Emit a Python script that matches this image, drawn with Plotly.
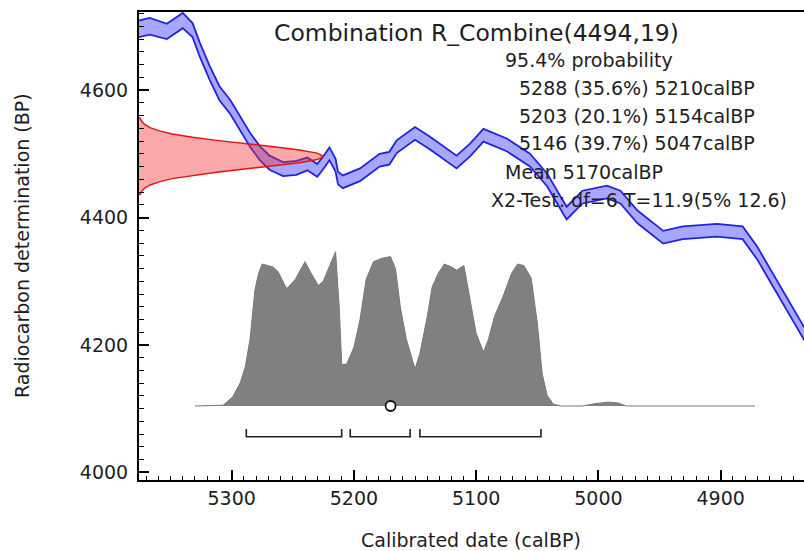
import plotly.graph_objects as go

# ---------------- data ----------------
# calibration curve (centre, BP) and half-width of band
curve_cal = [5376, 5367, 5353, 5347, 5340, 5332, 5326, 5318, 5310, 5301,
             5293, 5285, 5277, 5269, 5258, 5247, 5238, 5230, 5225, 5220,
             5215, 5213, 5209, 5195, 5179, 5171, 5165, 5150, 5138, 5116,
             5105, 5094, 5075, 5056, 5042, 5026, 5013, 4993, 4982, 4968,
             4947, 4931, 4903, 4882, 4870, 4854, 4832, 4820]
curve_bp = [4696, 4700, 4692, 4700, 4709, 4694, 4663, 4627, 4595, 4573,
            4548, 4522, 4501, 4486, 4476, 4478, 4484, 4474, 4486, 4500,
            4482, 4462, 4456, 4467, 4490, 4493, 4511, 4532, 4517, 4487,
            4506, 4529, 4514, 4490, 4459, 4407, 4432, 4440, 4432, 4401,
            4369, 4376, 4380, 4376, 4344, 4291, 4219, 4190]
curve_err = [13, 13, 12, 12, 12, 11, 11, 11, 11, 11,
             11, 11, 11, 11, 11, 11, 10, 10, 10, 10,
             10, 10, 10, 10, 10, 10, 10, 10, 10, 10,
             10, 10, 10, 10, 10, 10, 10, 10, 10, 10,
             10, 10, 10, 10, 10, 10, 10, 10]

# radiocarbon measurement R_Combine(4494,19): relative density profile
r_bp = [4436, 4441, 4446, 4451, 4456, 4461, 4466, 4471, 4476, 4481, 4486, 4491, 4496,
        4501, 4506, 4511, 4516, 4521, 4526, 4531, 4536, 4541, 4546, 4551, 4556]
r_dens = [0.006, 0.015, 0.03, 0.06, 0.11, 0.18, 0.29, 0.42, 0.57, 0.73, 0.87, 0.966, 1.0,
          0.966, 0.87, 0.73, 0.57, 0.42, 0.29, 0.18, 0.11, 0.06, 0.03, 0.015, 0.006]

# calibrated (posterior) probability distribution, relative
post_cal = [5330, 5307, 5299, 5293, 5289, 5285, 5281, 5278, 5275, 5266,
            5262, 5255, 5248, 5240, 5235, 5229, 5225, 5215, 5212, 5210,
            5206, 5200, 5195, 5190, 5184, 5177, 5170, 5166, 5162, 5157,
            5150, 5146, 5140, 5136, 5131, 5126, 5120, 5116, 5110, 5105,
            5100, 5094, 5090, 5085, 5078, 5071, 5066, 5061, 5055, 5050,
            5046, 5042, 5037, 5031, 5013, 5003, 4992, 4984, 4977, 4872]
post_p = [0, 0.005, 0.06, 0.15, 0.25, 0.43, 0.75, 0.86, 0.92, 0.90,
          0.87, 0.76, 0.82, 0.935, 0.86, 0.78, 0.81, 1.0, 0.64, 0.27,
          0.27, 0.38, 0.56, 0.82, 0.935, 0.957, 0.968, 0.89, 0.64, 0.43,
          0.24, 0.34, 0.58, 0.77, 0.86, 0.92, 0.90, 0.88, 0.91, 0.69,
          0.47, 0.35, 0.43, 0.58, 0.71, 0.86, 0.92, 0.91, 0.83, 0.54,
          0.21, 0.07, 0.013, 0, 0, 0.015, 0.025, 0.02, 0, 0]

mean_cal = [5170]
hpd_from = [5288, 5203, 5146]
hpd_to = [5210, 5154, 5047]

title_text = "Combination R_Combine(4494,19)"
info_lines = ["95.4% probability",
              "5288 (35.6%) 5210calBP",
              "5203 (20.1%) 5154calBP",
              "5146 (39.7%) 5047calBP",
              "Mean 5170calBP",
              "X2-Test: df=6 T=11.9(5% 12.6)"]

# ---------------- layout constants ----------------
W, H = 804, 551
L, R, T, B = 139, 804, 12, 480
X_RANGE = [5375.8, 4831.8]
Y_RANGE = [3988.2, 4722.4]
Y2_RANGE = [-0.4796, 2.553]
RED_SCALE = 151  # calendar years spanned by peak of measurement density
FONT = "DejaVu Sans"
TXT = "#1e1e1e"


def px_x(px):
    return (px - L) / (R - L)


def px_y(py):
    return (B - py) / (B - T)


fig = go.Figure()

# calibration curve band
upper = [m + e for m, e in zip(curve_bp, curve_err)]
lower = [m - e for m, e in zip(curve_bp, curve_err)]
fig.add_trace(go.Scatter(x=curve_cal, y=lower, mode="lines",
                         line=dict(color="rgb(35,35,220)", width=1.8),
                         hoverinfo="skip", showlegend=False))
fig.add_trace(go.Scatter(x=curve_cal, y=upper, mode="lines", fill="tonexty",
                         fillcolor="rgba(95,95,255,0.55)",
                         line=dict(color="rgb(35,35,220)", width=1.8),
                         hoverinfo="skip", showlegend=False))

# measurement density on the y axis
rx = [X_RANGE[0] - RED_SCALE * d for d in r_dens]
fig.add_trace(go.Scatter(x=[X_RANGE[0]] + rx + [X_RANGE[0]],
                         y=[r_bp[0]] + r_bp + [r_bp[-1]],
                         mode="lines", fill="toself",
                         fillcolor="rgba(240,50,50,0.42)",
                         line=dict(color="rgb(225,20,20)", width=1.4),
                         hoverinfo="skip", showlegend=False))

# posterior distribution
fig.add_trace(go.Scatter(x=post_cal, y=post_p, yaxis="y2", mode="lines",
                         fill="tozeroy", fillcolor="rgb(128,128,128)",
                         line=dict(color="rgb(120,120,120)", width=1),
                         hoverinfo="skip", showlegend=False))

# hpd range brackets
bx, by = [], []
for a, b in zip(hpd_from, hpd_to):
    bx += [a, a, b, b, None]
    by += [-0.149, -0.199, -0.199, -0.149, None]
fig.add_trace(go.Scatter(x=bx, y=by, yaxis="y2", mode="lines",
                         line=dict(color="#222222", width=1.6),
                         hoverinfo="skip", showlegend=False))

# mean marker
fig.add_trace(go.Scatter(x=mean_cal, y=[0] * len(mean_cal), yaxis="y2", mode="markers",
                         marker=dict(symbol="circle", size=10, color="white",
                                     line=dict(color="#111111", width=1.8)),
                         hoverinfo="skip", showlegend=False))

axis_common = dict(showline=True, linecolor="black", linewidth=2,
                   ticks="inside", tickcolor="black", tickwidth=1.5, ticklen=10,
                   showgrid=False, zeroline=False,
                   tickfont=dict(family=FONT, size=19, color=TXT))

fig.update_layout(
    width=W, height=H,
    margin=dict(l=L, r=W - R, t=T, b=H - B),
    paper_bgcolor="white", plot_bgcolor="white",
    xaxis=dict(range=X_RANGE, dtick=100, tick0=0, mirror=True,
               minor=dict(dtick=10, ticks="inside", ticklen=4, tickwidth=1, tickcolor="black"),
               ticklabelstandoff=0, **axis_common),
    yaxis=dict(range=Y_RANGE, dtick=200, tick0=0, mirror=False,
               minor=dict(dtick=20, ticks="inside", ticklen=5, tickwidth=1, tickcolor="black"),
               ticklabelstandoff=5, **axis_common),
    yaxis2=dict(range=Y2_RANGE, overlaying="y", visible=False),
    showlegend=False,
)

annotations = [
    dict(text=title_text, x=px_x(476), y=px_y(33), xanchor="center", yanchor="middle",
         font=dict(family=FONT, size=23.5, color=TXT)),
    dict(text="Calibrated date (calBP)", x=px_x(471), y=px_y(540), xanchor="center",
         yanchor="middle", font=dict(family=FONT, size=19, color=TXT)),
    dict(text="Radiocarbon determination (BP)", x=px_x(22), y=px_y(246), xanchor="center",
         yanchor="middle", textangle=-90, font=dict(family=FONT, size=19, color=TXT)),
]
line_pos = [(503, 60), (517, 88), (517, 116), (517, 143), (503, 172), (489, 200)]
for txt, (lx, ly) in zip(info_lines, line_pos):
    annotations.append(dict(text=txt, x=px_x(lx), y=px_y(ly), xanchor="left",
                            yanchor="middle", font=dict(family=FONT, size=19, color=TXT)))
for a in annotations:
    a.update(xref="paper", yref="paper", showarrow=False)
fig.update_layout(annotations=annotations)

fig.write_html("out.html", config={"displayModeBar": False},
               post_script="document.body.style.margin='0';document.body.style.overflow='hidden';")
